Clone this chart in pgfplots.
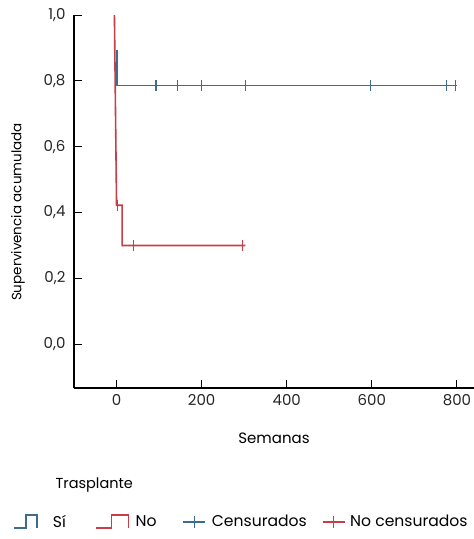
\documentclass[border=0pt]{standalone}
\usepackage{pgfplots}
\pgfplotsset{compat=1.18}
\usepackage{fontspec}
\setmainfont{Poppins}
\definecolor{siblue}{RGB}{62,108,142}
\definecolor{nored}{RGB}{200,62,72}

\begin{document}
\begin{tikzpicture}
\begin{axis}[at={(0,0)}, anchor=south west, scale only axis,
             width=400pt, height=373pt,
             xmin=-100, xmax=840, ymin=-0.133, ymax=1.0,
             axis x line*=bottom, axis y line*=left,
             axis line style={line width=1.2pt, -},
             tick align=inside, major tick length=8pt,
             every tick/.style={black, line width=1pt},
             xtick={0,200,...,800}, ytick={0,0.2,...,1.0},
             yticklabel style={xshift=-5pt, /pgf/number format/.cd, use comma, fixed, fixed zerofill, precision=1},
             xticklabel style={yshift=-3pt},
             /pgf/number format/assume math mode=true,
             ticklabel style={font=\fontsize{15}{16}\selectfont, text=black!85},
             xlabel={Semanas}, ylabel={Supervivencia acumulada},
             xlabel style={font=\fontsize{15}{16}\selectfont, at={(axis description cs:0.5,-0.135)}, anchor=center},
             ylabel style={font=\fontsize{13.5}{16}\selectfont, at={(axis description cs:-0.14,0.472)}, anchor=center},
             clip=false,
             legend style={at={(axis description cs:-0.1525,-0.359)}, anchor=west, draw=none, fill=none,
                           inner sep=0pt, font=\fontsize{15.6}{17}\selectfont,
                           /tikz/column 1/.style={column sep=6pt},
                           /tikz/column 2/.style={column sep=27pt},
                           /tikz/column 3/.style={column sep=2pt},
                           /tikz/column 4/.style={column sep=24pt},
                           /tikz/column 5/.style={column sep=4pt},
                           /tikz/column 6/.style={column sep=13pt},
                           /tikz/column 7/.style={column sep=3pt}},
             legend columns=4]
% curvas de supervivencia
\addplot[siblue, line width=1.6pt, mark=none, forget plot]
        coordinates {(1,0.894) (1,0.786) (800,0.786)};
\addplot[nored, line width=1.6pt, mark=none, forget plot]
        coordinates {(-5,1.0) (0,0.422) (13,0.422) (13,0.300) (303,0.300)};
% censuras
\addplot[siblue, only marks, mark=|, mark size=5.5pt, mark options={line width=1.3pt}, forget plot]
        coordinates {(93,0.786) (144,0.786) (199,0.786) (303,0.786) (596,0.786) (776,0.786) (797,0.786)};
\addplot[nored, only marks, mark=|, mark size=5.5pt, mark options={line width=1.3pt}, forget plot]
        coordinates {(3,0.422) (40,0.300) (296,0.300)};
% leyenda
\addlegendimage{legend image code/.code={\draw[siblue, line width=1.4pt] (0pt,-6pt) -- (12pt,-6pt) -- (12pt,7pt) -- (23pt,7pt) -- (23pt,-6pt); \path[draw=none] (0pt,0pt) -- (31pt,0pt);}}
\addlegendentry{Sí}
\addlegendimage{legend image code/.code={\draw[nored, line width=1.4pt] (0pt,-6pt) -- (16pt,-6pt) -- (16pt,7pt) -- (33pt,7pt) -- (33pt,-6pt); \path[draw=none] (0pt,0pt) -- (36pt,0pt);}}
\addlegendentry{No}
\addlegendimage{legend image code/.code={\draw[siblue, line width=1.4pt] (0pt,0pt) -- (22pt,0pt) (11pt,-6pt) -- (11pt,6pt);}}
\addlegendentry{Censurados}
\addlegendimage{legend image code/.code={\draw[nored, line width=1.4pt] (0pt,0pt) -- (22pt,0pt) (11pt,-6pt) -- (11pt,6pt);}}
\addlegendentry{No censurados}
\end{axis}
\node[anchor=west, font=\fontsize{14.5}{16}\selectfont] at (-22pt,-97pt) {Trasplante};
\pgfresetboundingbox
\path (-74pt,-151pt) rectangle (400pt,388pt);
\end{tikzpicture}
\end{document}
